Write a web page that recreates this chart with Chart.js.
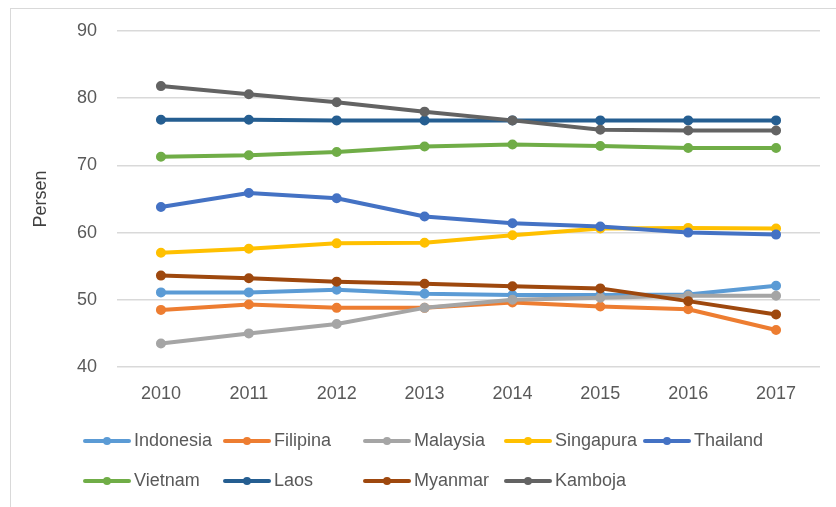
<!DOCTYPE html>
<html>
<head>
<meta charset="utf-8">
<script src="https://cdn.jsdelivr.net/npm/chart.js@4"></script>
<style>
  body { margin: 0; background: #fff; }
  #wrap { position: relative; width: 836px; height: 507px; overflow: hidden; }
  #frame { position: absolute; left: 10px; top: 8px; width: 900px; height: 600px; border: 1.5px solid #d9d9d9; }
  canvas { position: absolute; left: 0; top: 0; }
  .leg { position: absolute; font-family: "Liberation Sans", Arial, sans-serif; font-size: 18px; color: #595959; white-space: nowrap; line-height: 20px; }
  .leg span.ln { display: inline-block; position: relative; width: 48px; height: 4px; border-radius: 2px; vertical-align: middle; margin-right: 3px; }
  .leg span.ln i { position: absolute; left: 20px; top: -2px; width: 8px; height: 8px; border-radius: 4px; background: inherit; }
</style>
</head>
<body>
<div id="wrap">
  <div id="frame"></div>
  <canvas id="chart" width="836" height="507"></canvas>
</div>
<script>
const years = ["2010", "2011", "2012", "2013", "2014", "2015", "2016", "2017"];
const countries = ["Indonesia", "Filipina", "Malaysia", "Singapura", "Thailand", "Vietnam", "Laos", "Myanmar", "Kamboja"];
const colors = ["#5B9BD5", "#ED7D31", "#A5A5A5", "#FFC000", "#4472C4", "#70AD47", "#255E91", "#9E480E", "#636363"];

const indonesia = [51.1, 51.1, 51.5, 50.9, 50.7, 50.7, 50.8, 52.1];
const filipina  = [48.5, 49.3, 48.8, 48.8, 49.6, 49.0, 48.6, 45.5];
const malaysia  = [43.5, 45.0, 46.4, 48.8, 50.0, 50.3, 50.6, 50.6];
const singapura = [57.0, 57.6, 58.4, 58.5, 59.6, 60.6, 60.7, 60.6];
const thailand  = [63.8, 65.9, 65.1, 62.4, 61.4, 60.9, 60.0, 59.7];
const vietnam   = [71.3, 71.5, 72.0, 72.8, 73.1, 72.9, 72.6, 72.6];
const laos      = [76.8, 76.8, 76.7, 76.7, 76.7, 76.7, 76.7, 76.7];
const myanmar   = [53.6, 53.2, 52.7, 52.4, 52.0, 51.7, 49.8, 47.8];
const kamboja   = [81.8, 80.6, 79.4, 78.0, 76.7, 75.3, 75.2, 75.2];

const series = [indonesia, filipina, malaysia, singapura, thailand, vietnam, laos, myanmar, kamboja];

// legend laid out in two rows of 140px columns, like the Excel original
const legendSpots = [[83, 430], [223, 430], [363, 430], [504, 430], [643, 430],
                     [83, 470], [223, 470], [363, 470], [504, 470]];

const font = "'Liberation Sans', Arial, sans-serif";

const ctx = document.getElementById("chart").getContext("2d");
new Chart(ctx, {
  type: "line",
  data: {
    labels: years,
    datasets: series.map((d, i) => ({
      label: countries[i],
      data: d,
      borderColor: colors[i],
      backgroundColor: colors[i],
      pointBackgroundColor: colors[i],
      pointBorderColor: colors[i],
      borderWidth: 4,
      pointRadius: 3,
      borderCapStyle: "round",
      borderJoinStyle: "round",
      tension: 0,
      order: series.length - i,
    })),
  },
  options: {
    responsive: false,
    animation: false,
    layout: { padding: { left: 30, right: 16, top: 31, bottom: 0 } },
    plugins: { legend: { display: false }, tooltip: { enabled: false } },
    scales: {
      x: {
        offset: true,
        grid: { display: false, drawTicks: false },
        border: { display: false },
        ticks: { color: "#595959", font: { family: font, size: 18 }, padding: 16 },
        afterFit: (s) => { s.height = 140; },
      },
      y: {
        min: 40,
        max: 90,
        ticks: { stepSize: 10, color: "#595959", font: { family: font, size: 18 }, padding: 20 },
        grid: { color: "#d9d9d9", lineWidth: 1.5, drawTicks: false },
        border: { display: false },
        title: { display: true, text: "Persen", color: "#404040", font: { family: font, size: 18 }, padding: 0 },
        afterFit: (s) => { s.width = 87; },
      },
    },
  },
});

const wrap = document.getElementById("wrap");
countries.forEach((name, i) => {
  const el = document.createElement("div");
  el.className = "leg";
  el.style.left = legendSpots[i][0] + "px";
  el.style.top = legendSpots[i][1] + "px";
  el.innerHTML = '<span class="ln" style="background:' + colors[i] + '"><i></i></span>' + name;
  wrap.appendChild(el);
});
</script>
</body>
</html>
